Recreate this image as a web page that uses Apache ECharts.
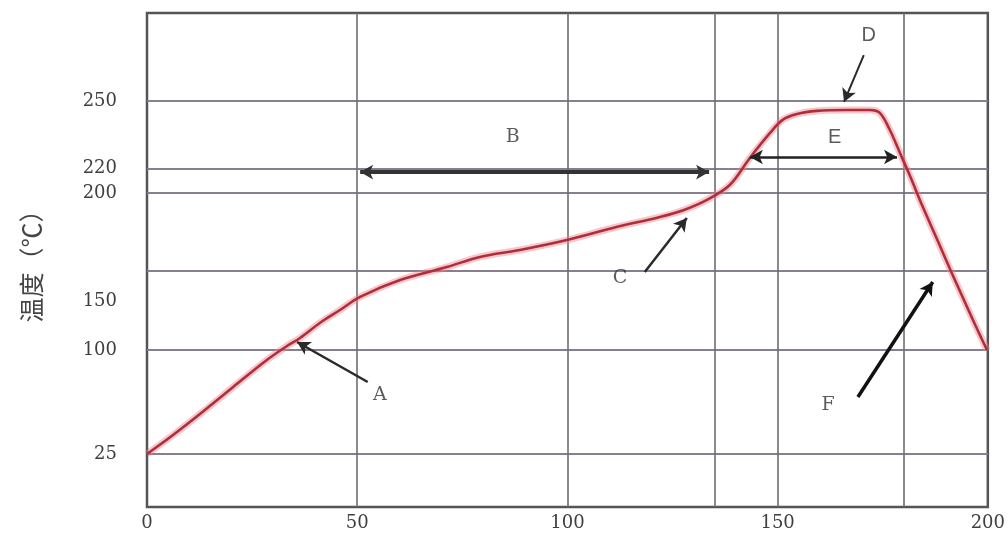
<!DOCTYPE html>
<html>
<head>
<meta charset="utf-8">
<script src="https://cdn.jsdelivr.net/npm/echarts@6/dist/echarts.min.js"></script>
<style>html,body{margin:0;padding:0;background:#fff}#c{width:1008px;height:537px}</style>
</head>
<body>
<div id="c"></div>
<script>
// ---- data ----
var timeX = [0, 6.2, 12.6, 20.5, 28.5, 33.3, 36.4, 41.1, 45.9, 50.7, 60.2, 71.3, 79.2, 88.7, 99.9, 110.8, 122, 127.4, 133.2, 138.6, 143.4, 148.2, 151.2, 154.6, 159.3, 166, 171.9, 174.3, 176.7, 179.1, 181.5, 184.5, 187.9, 191, 194.1, 196.9, 199.8];
var tempY = [25, 38.7, 53.8, 73.3, 92.8, 104.1, 112.2, 127.6, 140.8, 151.9, 159.7, 165.7, 170.4, 173.6, 178.2, 183.8, 188.9, 191.9, 196.8, 206.5, 224.7, 235.8, 241.6, 244.2, 245.6, 246, 246, 244.7, 237.1, 226.9, 213.9, 193.7, 178.7, 164.8, 151.4, 126.5, 100];
var xLabelValues = [0, 50, 100, 150, 200];
var xGridValues = [50, 100, 135, 150, 180];
var yLabelValues = [25, 100, 150, 200, 220, 250];
var yGridValues = [25, 100, 164, 200, 220, 250];
var yAxisName = '温度（℃）';

// annotation letters
var noteText = ['A', 'B', 'C', 'D', 'E', 'F'];
var noteX = [55.4, 87, 112.5, 171.7, 163.6, 162];
var noteT = [67.6, 234, 160.6, 279.3, 234, 60.3];
// annotation arrows (from -> to)
var arrowFromX = [52.5, 50.7, 118.4, 170.5, 143.4, 169.1];
var arrowFromT = [76.9, 217.1, 163.4, 270.4, 225.1, 66.1];
var arrowToX = [35.7, 133.7, 128.4, 165.8, 178.4, 186.9];
var arrowToT = [108.2, 217.1, 188.4, 249.6, 225.1, 158.8];
var arrowBoth = [false, true, false, false, true, false];

// ---- schematic (non-linear) temperature scale of the drawing ----
var scaleT = [25, 100, 150, 200, 220, 250];
var scaleU = [53, 157, 206, 314, 338.5, 406];
var U_MAX = 494;
function warp(t) {
  var n = scaleT.length, i;
  if (t <= scaleT[0]) return scaleU[0] + (t - scaleT[0]) * (scaleU[1] - scaleU[0]) / (scaleT[1] - scaleT[0]);
  if (t >= scaleT[n - 1]) return scaleU[n - 1] + (t - scaleT[n - 1]) * (scaleU[n - 1] - scaleU[n - 2]) / (scaleT[n - 1] - scaleT[n - 2]);
  for (i = 0; i < n - 1; i++) {
    if (t <= scaleT[i + 1]) return scaleU[i] + (t - scaleT[i]) * (scaleU[i + 1] - scaleU[i]) / (scaleT[i + 1] - scaleT[i]);
  }
}
function unwarp(u) {
  var n = scaleU.length, i;
  if (u <= scaleU[0]) return scaleT[0] + (u - scaleU[0]) * (scaleT[1] - scaleT[0]) / (scaleU[1] - scaleU[0]);
  if (u >= scaleU[n - 1]) return scaleT[n - 1] + (u - scaleU[n - 1]) * (scaleT[n - 1] - scaleT[n - 2]) / (scaleU[n - 1] - scaleU[n - 2]);
  for (i = 0; i < n - 1; i++) {
    if (u <= scaleU[i + 1]) return scaleT[i] + (u - scaleU[i]) * (scaleT[i + 1] - scaleT[i]) / (scaleU[i + 1] - scaleU[i]);
  }
}

var curve = timeX.map(function (x, i) { return [x, warp(tempY[i])]; });

var arrowWidths = [2.5, 4, 2.5, 2, 2.5, 3.5];
var arrowColors = ['#2a2a2a', '#333', '#2a2a2a', '#2a2a2a', '#222', '#111'];
var arrowLines = arrowFromX.map(function (x, i) {
  return [
    { coord: [x, warp(arrowFromT[i])], symbol: arrowBoth[i] ? 'arrow' : 'none', symbolSize: [11, 13],
      lineStyle: { width: arrowWidths[i], color: arrowColors[i], type: 'solid' } },
    { coord: [arrowToX[i], warp(arrowToT[i])], symbol: 'arrow', symbolSize: [11, 13] }
  ];
});

var sansLetters = { D: true, E: true };
var notes = noteText.map(function (s, i) {
  return {
    value: [noteX[i], warp(noteT[i])],
    name: s,
    label: {
      fontFamily: sansLetters[s] ? 'Liberation Sans' : 'DejaVu Serif',
      fontSize: sansLetters[s] ? 20 : 19
    }
  };
});

var chart = echarts.init(document.getElementById('c'), null, { renderer: 'canvas' });
chart.setOption({
  animation: false,
  backgroundColor: '#ffffff',
  grid: { left: 147, right: 20, top: 13, bottom: 30, show: true, borderColor: '#555', borderWidth: 2.5, backgroundColor: 'transparent' },
  xAxis: {
    type: 'value', min: 0, max: 200, interval: 50,
    axisLine: { show: false },
    axisTick: { show: false, customValues: xGridValues },
    axisLabel: { customValues: xLabelValues, margin: 7, color: '#3f3f3f', fontFamily: 'DejaVu Serif', fontSize: 18 },
    splitLine: { show: true, lineStyle: { color: '#6e6e6e', width: 1.6 } }
  },
  yAxis: {
    type: 'value', min: 0, max: U_MAX,
    name: yAxisName, nameLocation: 'middle', nameRotate: 90, nameGap: 103,
    nameTextStyle: { fontFamily: 'Noto Sans CJK SC', fontSize: 25, color: '#444' },
    axisLine: { show: false },
    axisTick: { show: false, customValues: yGridValues.map(warp) },
    axisLabel: {
      customValues: yLabelValues.map(warp), margin: 30, color: '#3f3f3f', fontFamily: 'DejaVu Serif', fontSize: 18,
      formatter: function (v) { return String(Math.round(unwarp(v))); }
    },
    splitLine: { show: true, lineStyle: { color: '#877f8d', width: 2 } }
  },
  series: [
    {
      type: 'line', data: curve, smooth: 0.35, symbol: 'none', silent: true,
      lineStyle: { color: 'rgba(235,130,140,0.45)', width: 7 }, z: 2
    },
    {
      type: 'line', data: curve, smooth: 0.35, symbol: 'none', silent: true,
      lineStyle: { color: '#b02d3b', width: 2.6 }, z: 3,
      markLine: { silent: true, animation: false, label: { show: false }, data: arrowLines, z: 5 }
    },
    {
      type: 'scatter', data: notes, symbolSize: 0, silent: true, z: 6,
      label: { show: true, position: 'inside', formatter: '{b}', color: '#333' }
    }
  ]
});
</script>
</body>
</html>
